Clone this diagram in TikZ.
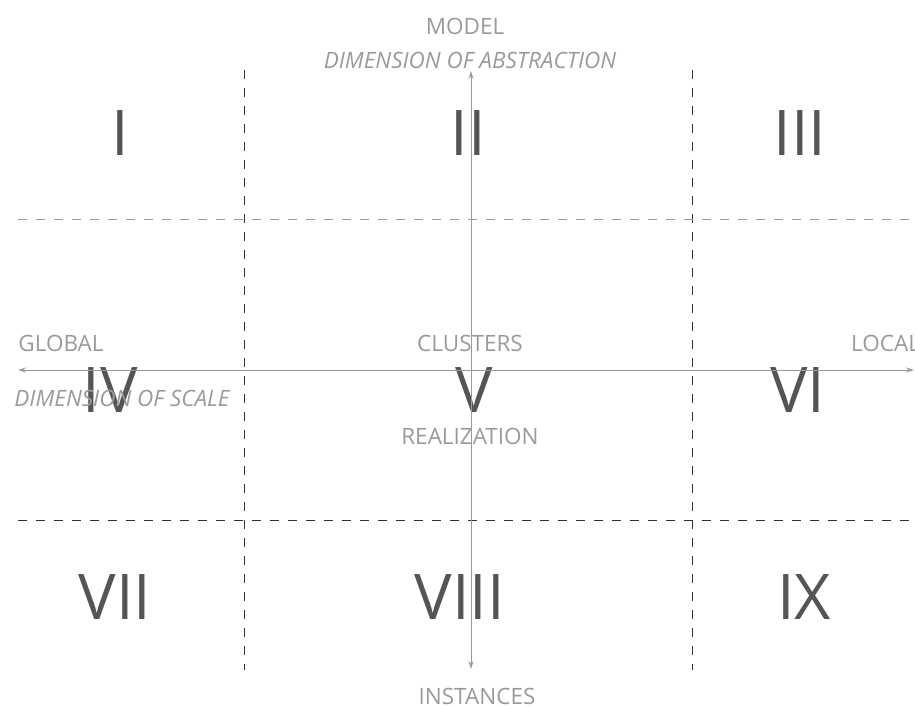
\documentclass[tikz,border=0pt]{standalone}
\usepackage{fontspec}
\setmainfont{Open Sans}
\usetikzlibrary{arrows.meta}
\definecolor{lbl}{HTML}{9A9A9A}
\definecolor{num}{HTML}{555555}
\definecolor{dashdark}{HTML}{333333}
\tikzset{
  numeral/.style={text=num, font=\fontsize{63}{63}\selectfont, inner sep=0pt},
  lab/.style={text=lbl, font=\fontsize{22.5}{22.5}\selectfont, inner sep=0pt},
  ilab/.style={text=lbl, font=\fontsize{22.5}{22.5}\selectfont\itshape, inner sep=0pt},
  axis/.style={draw=lbl, line width=0.9pt, -{Stealth[length=8pt,width=5pt]}},
  gridd/.style={draw=dashdark, line width=0.9pt, dash pattern=on 9pt off 9pt},
  gridl/.style={draw=lbl, line width=0.9pt, dash pattern=on 9pt off 9pt},
}
\begin{document}
\begin{tikzpicture}[x=1pt,y=-1pt]
\useasboundingbox (0,0) rectangle (915,708);
% grid
\coordinate (v1t) at (244,70); \coordinate (v1b) at (244,670);
\coordinate (v2t) at (692,70); \coordinate (v2b) at (692,670);
\coordinate (h1l) at (18,219); \coordinate (h1r) at (915,219);
\coordinate (h2l) at (18,520); \coordinate (h2r) at (915,520);
\draw[gridd] (v1t) -- (v1b);
\draw[gridd] (v2t) -- (v2b);
\draw[gridl] (h1l) -- (h1r);
\draw[gridd] (h2l) -- (h2r);
% numerals
\node[numeral] (n1) at (120,133) {I};
\node[numeral] (n2) at (468,133) {II};
\node[numeral] (n3) at (800,133) {III};
\node[numeral] (n4) at (110,390) {IV};
\node[numeral] (n5) at (474,390) {V};
\node[numeral] (n6) at (798,390) {VI};
\node[numeral] (n7) at (115,597) {VII};
\node[numeral] (n8) at (460,597) {VIII};
\node[numeral] (n9) at (804,597) {IX};
% axes
\coordinate (ac) at (471,370);
\coordinate (atop) at (471,71);
\coordinate (abot) at (471,669);
\coordinate (aleft) at (18,370);
\coordinate (aright) at (914,370);
\draw[axis] (ac) -- (atop);
\draw[axis] (ac) -- (abot);
\draw[axis] (ac) -- (aleft);
\draw[axis] (ac) -- (aright);
% labels
\node[lab] (model) at (465,26) {MODEL};
\node[ilab] (dabs) at (470,60) {DIMENSION OF ABSTRACTION};
\node[lab] (global) at (61,343) {GLOBAL};
\node[ilab] (dscale) at (122,398) {DIMENSION OF SCALE};
\node[lab] (clusters) at (470,343) {CLUSTERS};
\node[lab] (real) at (470,436) {REALIZATION};
\node[lab, anchor=west] (local) at (851,343) {LOCAL};
\node[lab] (inst) at (477,696) {INSTANCES};
\end{tikzpicture}
\end{document}
